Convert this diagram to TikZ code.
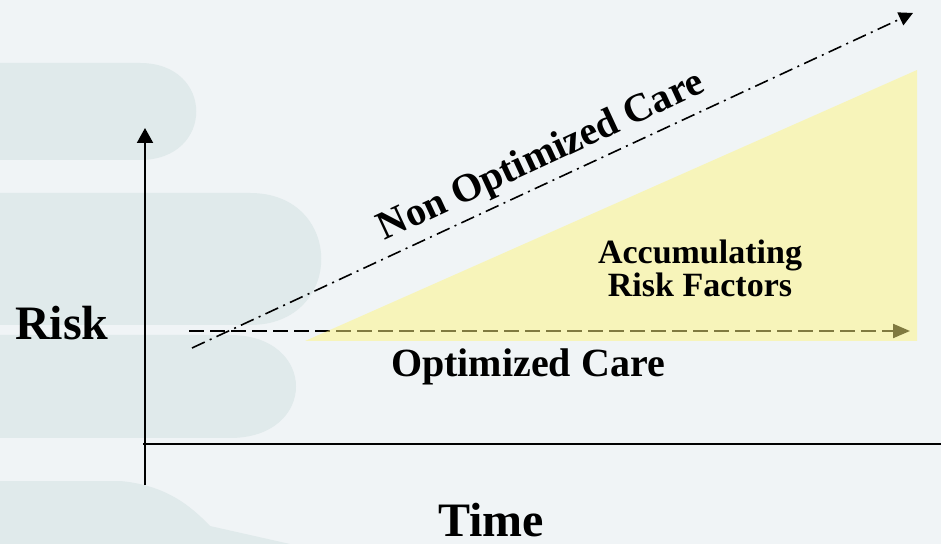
\documentclass[tikz,border=0pt]{standalone}
\usepackage{fontspec}
\setmainfont{Liberation Serif}
\usetikzlibrary{arrows.meta}
\definecolor{slide}{HTML}{F0F4F6}
\definecolor{slideshade}{HTML}{E0EAEB}
\definecolor{riskfill}{HTML}{FFF580}

\begin{document}
\begin{tikzpicture}[x=0.5pt,y=-0.5pt,
    every node/.style={font=\bfseries},
    big/.style={font={\fontsize{24}{28}\selectfont\bfseries}},
    mid/.style={font={\fontsize{20}{24}\selectfont\bfseries}},
    small/.style={font={\fontsize{17}{16.5}\selectfont\bfseries}},
    axis/.style={line width=1pt,-{Triangle[length=7.5pt,width=8pt]}}]
    % backdrop with the faint bars on the left
    \fill[slide] (0,0) rectangle (941,544);
    \useasboundingbox (0,0) rectangle (941,544);
    \fill[slideshade] (0,63) -- (140,63) .. controls (215,63) and (215,160) .. (140,160) -- (0,160) -- cycle;
    \fill[slideshade] (0,193) -- (250,193) .. controls (345,193) and (345,325) .. (250,325) -- (0,325) -- cycle;
    \fill[slideshade] (0,335) -- (230,335) .. controls (318,335) and (318,438) .. (230,438) -- (0,438) -- cycle;
    \fill[slideshade] (0,481) -- (120,481) .. controls (165,485) and (190,505) .. (210,526) -- (290,544) -- (0,544) -- cycle;

    % axes
    \coordinate (ybot) at (145,485);
    \coordinate (ytop) at (145,128);
    \coordinate (xleft) at (143,444);
    \coordinate (xright) at (941,444);
    \draw[axis] (ybot) -- (ytop);
    \draw[line width=1pt] (xleft) -- (xright);
    \node[big,anchor=base] (risk) at (62,340) {Risk};
    \node[big,anchor=base] (time) at (491,536) {Time};

    % optimized care: flat line, later covered by the yellow wedge
    \coordinate (ostart) at (189,331);
    \coordinate (oend) at (910,331);
    \draw[line width=1.1pt,dash pattern=on 7.5pt off 3pt,-{Triangle[length=8.5pt,width=7pt]}] (ostart) -- (oend);
    \node[mid,anchor=base] (optcare) at (528,377) {Optimized Care};

    % accumulating risk factors wedge
    \fill[riskfill,fill opacity=0.5] (305,341) -- (917,70) -- (917,341) -- cycle;
    \node[small,align=center] (accum) at (700,268) {Accumulating\\Risk Factors};

    % non optimized care: rising dash-dot line
    \coordinate (nstart) at (192,348);
    \coordinate (nend) at (913,13);
    \draw[line width=0.8pt,dash pattern=on 7pt off 2.75pt on 1pt off 2.75pt,-{Triangle[length=7pt,width=7pt]}] (nstart) -- (nend)
      node[mid,pos=0.5,sloped,above] (nonopt) {Non Optimized Care};
\end{tikzpicture}
\end{document}
